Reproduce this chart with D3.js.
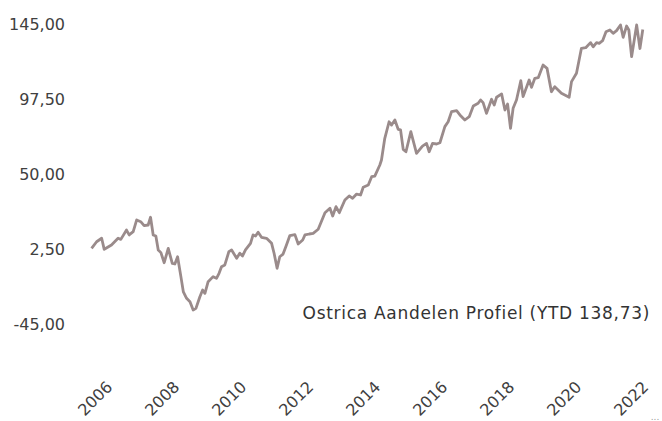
<!DOCTYPE html>
<html>
<head>
<meta charset="utf-8">
<script src="https://cdn.jsdelivr.net/npm/d3@7"></script>
<style>
  body { margin: 0; background: #fff; }
  text { font-family: "DejaVu Sans", sans-serif; }
</style>
</head>
<body>
<svg id="chart" width="662" height="421"></svg>
<script>
var dates = [
  "2005-10-01","2005-11-25","2006-01-19","2006-02-16","2006-05-06","2006-07-17","2006-08-16","2006-10-17",
  "2006-11-15","2006-12-29","2007-02-05","2007-03-21","2007-04-27","2007-06-10","2007-07-06","2007-08-04",
  "2007-09-02","2007-09-28","2007-10-27","2007-12-02","2008-01-15","2008-02-28","2008-03-27","2008-04-26",
  "2008-06-01","2008-06-28","2008-08-02","2008-09-08","2008-10-13","2008-11-12","2008-12-25","2009-01-24",
  "2009-02-18","2009-03-25","2009-05-18","2009-06-24","2009-07-22","2009-08-18","2009-09-23","2009-11-06",
  "2009-12-06","2010-01-30","2010-03-05","2010-04-04","2010-05-06","2010-06-30","2010-07-28","2010-08-24",
  "2010-09-21","2010-10-28","2010-12-22","2011-02-15","2011-03-14","2011-04-16","2011-05-15","2011-06-20",
  "2011-07-27","2011-09-02","2011-10-27","2011-12-02","2012-01-20","2012-02-14","2012-04-01","2012-05-13",
  "2012-07-07","2012-09-19","2012-11-12","2012-12-12","2013-01-17","2013-02-22","2013-04-24","2013-06-10",
  "2013-07-17","2013-08-30","2013-10-12","2013-11-10","2014-01-04","2014-02-10","2014-03-16","2014-05-10",
  "2014-05-28","2014-07-03","2014-08-19","2014-09-15","2014-10-21","2014-11-26","2014-12-22","2015-01-20",
  "2015-02-19","2015-04-13","2015-06-14","2015-08-18","2015-10-01","2015-10-30","2015-12-06","2016-01-19",
  "2016-02-24","2016-04-18","2016-05-24","2016-06-30","2016-08-24","2016-09-29","2016-11-22","2017-01-09",
  "2017-02-22","2017-04-16","2017-05-12","2017-06-09","2017-07-16","2017-09-09","2017-10-08","2017-11-03",
  "2017-12-28","2018-02-02","2018-03-03","2018-04-04","2018-05-02","2018-06-08","2018-07-25","2018-08-19",
  "2018-10-24","2018-11-19","2018-12-25","2019-01-31","2019-03-25","2019-05-07","2019-06-24","2019-07-30",
  "2019-10-11","2020-01-03","2020-01-29","2020-03-23","2020-05-16","2020-07-02","2020-08-23","2020-09-21",
  "2020-10-28","2020-11-26","2021-01-02","2021-02-08","2021-03-22","2021-04-27","2021-06-03","2021-07-16",
  "2021-08-14","2021-09-20","2021-10-15","2021-11-14","2022-01-08","2022-02-13","2022-03-16"
];

var values = [
  2.9, 7.1, 9.3, 2.3, 5.0, 9.3, 8.6, 14.5,
  11.4, 13.5, 20.9, 19.8, 17.3, 17.7, 22.6, 11.4,
  10.7, 1.9, 0.2, -6.2, 2.9, -6.6, -7.0, -2.4,
  -15.0, -24.7, -28.7, -30.9, -36.1, -35.1, -27.7, -23.5,
  -25.6, -18.2, -15.0, -16.1, -12.9, -8.7, -7.6, 0.8,
  1.9, -3.4, -0.2, -1.9, 1.9, 6.1, 11.4, 10.7,
  13.1, 9.9, 9.3, 6.1, -0.2, -9.7, -2.4, -0.7,
  5.0, 11.0, 11.6, 5.7, 8.2, 11.4, 12.0, 12.4,
  15.0, 25.5, 28.3, 23.4, 29.3, 25.5, 33.5, 36.1,
  34.6, 37.3, 36.7, 41.6, 43.0, 48.3, 48.7, 55.7,
  58.9, 72.6, 83.1, 81.0, 84.2, 78.3, 77.9, 65.6,
  64.1, 76.8, 63.1, 67.7, 69.4, 64.1, 69.4, 69.0,
  69.8, 80.0, 83.1, 89.5, 90.1, 87.4, 84.2, 86.3,
  93.1, 94.8, 96.9, 95.2, 88.4, 97.3, 93.7, 98.6,
  100.7, 90.5, 94.3, 78.9, 91.6, 96.9, 109.1, 99.0,
  109.5, 104.9, 110.6, 111.0, 119.0, 116.9, 102.1, 105.3,
  101.1, 98.6, 108.5, 113.8, 129.6, 130.0, 133.2, 130.6,
  133.2, 132.8, 134.4, 140.1, 141.2, 139.1, 140.8, 144.4,
  136.6, 143.7, 141.2, 124.3, 144.4, 129.5, 141.5
];

var yTicks = [-45, 2.5, 50, 97.5, 145];
var xTickYears = [2006, 2008, 2010, 2012, 2014, 2016, 2018, 2020, 2022];
var seriesLabel = "Ostrica Aandelen Profiel (YTD 138,73)";

var svg = d3.select("#chart");
var parseDate = d3.timeParse("%Y-%m-%d");

var nl = d3.formatLocale({ decimal: ",", thousands: ".", grouping: [3], currency: ["€", ""], minus: "-" });
var fmt = nl.format(".2f");

var data = dates.map(function (d, i) {
  return { date: parseDate(d), value: values[i] };
});

var x = d3.scaleTime()
  .domain([new Date(2006, 0, 1), new Date(2022, 0, 1)])
  .range([100, 636]);

var y = d3.scaleLinear()
  .domain([-45, 145])
  .range([324, 24]);

// y axis, labels only
var yAxis = svg.append("g")
  .attr("transform", "translate(74,0)")
  .call(d3.axisLeft(y).tickValues(yTicks).tickSize(0).tickPadding(9).tickFormat(fmt));
yAxis.select(".domain").remove();
yAxis.selectAll("text")
  .attr("fill", "#404040")
  .style("font-size", "16px");

// x axis, rotated year labels
var xAxis = svg.append("g")
  .attr("transform", "translate(0,384)")
  .call(d3.axisBottom(x)
    .tickValues(xTickYears.map(function (yr) { return new Date(yr, 0, 1); }))
    .tickSize(0)
    .tickFormat(d3.timeFormat("%Y")));
xAxis.select(".domain").remove();
xAxis.selectAll("text")
  .attr("y", 0)
  .attr("dy", "0.35em")
  .attr("text-anchor", "end")
  .attr("transform", "translate(9,0) rotate(-45)")
  .attr("fill", "#404040")
  .style("font-size", "16px");

var line = d3.line()
  .x(function (d) { return x(d.date); })
  .y(function (d) { return y(d.value); });

svg.append("path")
  .datum(data)
  .attr("fill", "none")
  .attr("stroke", "#9a8b8b")
  .attr("stroke-width", 2.8)
  .attr("stroke-linejoin", "round")
  .attr("d", line);

svg.append("text")
  .attr("x", 650)
  .attr("y", 313)
  .attr("dy", "0.35em")
  .attr("text-anchor", "end")
  .attr("fill", "#333")
  .style("font-size", "17px")
  .style("letter-spacing", "0.7px")
  .text(seriesLabel);

svg.append("text")
  .attr("x", 655)
  .attr("y", 420)
  .attr("text-anchor", "middle")
  .attr("fill", "#999")
  .style("font-size", "9px")
  .text("...");
</script>
</body>
</html>
